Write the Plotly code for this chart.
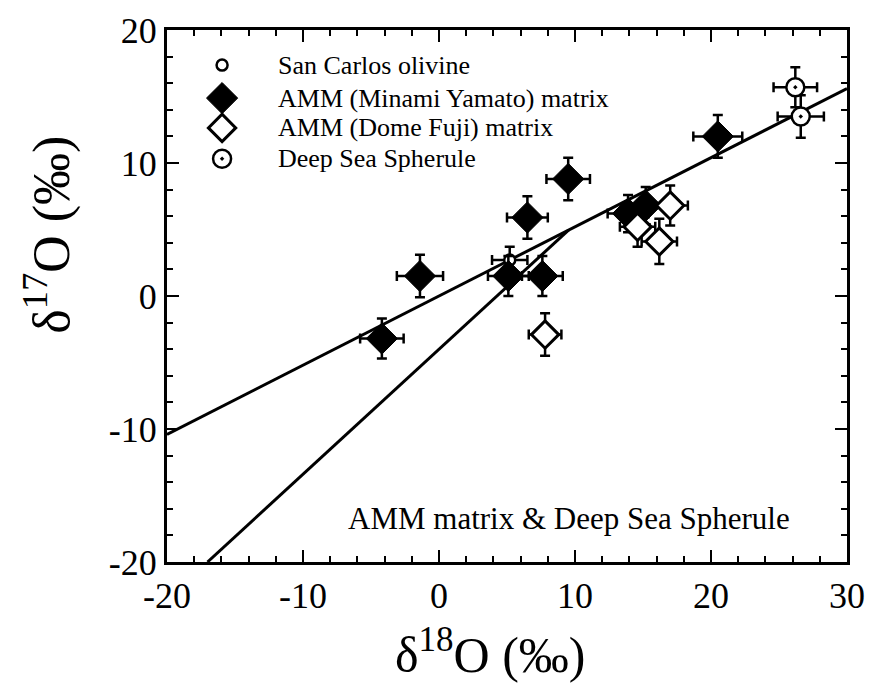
import plotly.graph_objects as go

# ---- data ----
my_x = [-4.2, -1.4, 5.1, 7.6, 6.5, 9.5, 13.9, 15.2, 20.5]
my_y = [-3.2, 1.5, 1.5, 1.5, 5.9, 8.8, 6.2, 6.8, 12.0]
my_ex = [1.6, 1.7, 1.5, 1.5, 1.5, 1.6, 1.5, 1.5, 1.8]
my_ey = [1.5, 1.6, 1.5, 1.5, 1.6, 1.6, 1.4, 1.4, 1.6]

df_x = [7.8, 14.6, 16.2, 17.0]
df_y = [-2.9, 5.2, 4.1, 6.8]
df_ex = [1.2, 1.3, 1.3, 1.3]
df_ey = [1.6, 1.5, 1.7, 1.5]

dss_x = [26.2, 26.6]
dss_y = [15.7, 13.5]
dss_ex = [1.6, 1.7]
dss_ey = [1.5, 1.6]

sc_x = [5.2]
sc_y = [2.7]
sc_ex = [1.3]
sc_ey = [1.0]

# reference lines: terrestrial fractionation (slope 0.52) and CCAM (slope 0.94)
tf_slope, tf_icpt = 0.52, 0.0
ccam_slope, ccam_icpt = 0.94, -4.0

legend_names = ["San Carlos olivine", "AMM (Minami Yamato) matrix",
                "AMM (Dome Fuji) matrix", "Deep Sea Spherule"]

x_ticks = [-20, -10, 0, 10, 20, 30]
x_ticktext = ["-20", "-10", "0", "10", "20", "30"]
y_ticks = [-20, -10, 0, 10, 20]
y_ticktext = ["-20", "-10", "0", "10", "20"]
x_range = [-20, 30]
y_range = [-20, 20]

FONT = "Liberation Serif, Times New Roman, serif"

# line coordinates from parameters
tf_x = [x_range[0], x_range[1]]
tf_y = [tf_slope * v + tf_icpt for v in tf_x]
x_int = (tf_icpt - ccam_icpt) / (ccam_slope - tf_slope)
x_bot = (y_range[0] - ccam_icpt) / ccam_slope
cc_x = [x_bot, x_int]
cc_y = [ccam_slope * v + ccam_icpt for v in cc_x]

fig = go.Figure()
ln = dict(color="black", width=3)
fig.add_trace(go.Scatter(x=tf_x, y=tf_y, mode="lines", line=ln, showlegend=False, hoverinfo="skip"))
fig.add_trace(go.Scatter(x=cc_x, y=cc_y, mode="lines", line=ln, showlegend=False, hoverinfo="skip"))

def eb(arr):
    return dict(type="data", array=arr, color="black", thickness=2.5, width=5)

fig.add_trace(go.Scatter(x=sc_x, y=sc_y, mode="markers", showlegend=False,
                         marker=dict(symbol="circle", size=11, color="white",
                                     line=dict(color="black", width=2.5)),
                         error_x=eb(sc_ex), error_y=eb(sc_ey)))
fig.add_trace(go.Scatter(x=my_x, y=my_y, mode="markers", showlegend=False,
                         marker=dict(symbol="diamond", size=24, color="black",
                                     line=dict(color="black", width=1)),
                         error_x=eb(my_ex), error_y=eb(my_ey)))
fig.add_trace(go.Scatter(x=df_x, y=df_y, mode="markers", showlegend=False,
                         marker=dict(symbol="diamond", size=21, color="white",
                                     line=dict(color="black", width=3)),
                         error_x=eb(df_ex), error_y=eb(df_ey)))
fig.add_trace(go.Scatter(x=dss_x, y=dss_y, mode="markers", showlegend=False,
                         marker=dict(symbol="circle-dot", size=18, color="white",
                                     line=dict(color="black", width=2.5)),
                         error_x=eb(dss_ex), error_y=eb(dss_ey)))

# manual legend on an overlay axis in [0,1] units
leg_rows = [0.934, 0.872, 0.816, 0.758]
leg_mx = 0.081
leg_tx = 0.160
leg_markers = [
    dict(symbol="circle", size=11, color="white", line=dict(color="black", width=2.5)),
    dict(symbol="diamond", size=24, color="black", line=dict(color="black", width=1)),
    dict(symbol="diamond", size=21, color="white", line=dict(color="black", width=3)),
    dict(symbol="circle-dot", size=18, color="white", line=dict(color="black", width=2.5)),
]
for r, m, name in zip(leg_rows, leg_markers, legend_names):
    fig.add_trace(go.Scatter(x=[leg_mx], y=[r], mode="markers", marker=m,
                             xaxis="x2", yaxis="y2", showlegend=False, hoverinfo="skip"))
    fig.add_annotation(x=leg_tx, y=r, xref="paper", yref="paper", text=name,
                       showarrow=False, xanchor="left", yanchor="middle",
                       font=dict(family=FONT, size=26, color="black"))

fig.add_annotation(x=0.591, y=0.081, xref="paper", yref="paper",
                   text="AMM matrix &amp; Deep Sea Spherule", showarrow=False,
                   xanchor="center", yanchor="middle",
                   font=dict(family=FONT, size=31, color="black"))

# axis titles
fig.add_annotation(x=0.475, y=-0.168, xref="paper", yref="paper",
                   text="δ<sup>18</sup>O (‰)", showarrow=False,
                   xanchor="center", yanchor="middle",
                   font=dict(family=FONT, size=50, color="black"))
fig.add_annotation(x=-0.175, y=0.615, xref="paper", yref="paper",
                   text="δ<sup>17</sup>O (‰)", showarrow=False, textangle=-90,
                   xanchor="center", yanchor="middle",
                   font=dict(family=FONT, size=52, color="black"))

axis_common = dict(showgrid=False, zeroline=False, showline=True, linecolor="black",
                   linewidth=3, mirror="allticks", ticks="inside", ticklen=12,
                   tickwidth=2, tickcolor="black", automargin=False,
                   tickfont=dict(family=FONT, size=36, color="black"),
                   minor=dict(ticks="inside", ticklen=6, tickwidth=2, tickcolor="black",
                              dtick=2, showgrid=False))

fig.update_layout(
    width=870, height=685,
    margin=dict(l=167, r=23, t=30, b=123, autoexpand=False),
    paper_bgcolor="white", plot_bgcolor="white",
    showlegend=False,
    xaxis=dict(range=x_range, tickvals=x_ticks, ticktext=x_ticktext, **axis_common),
    yaxis=dict(range=y_range, tickvals=y_ticks, ticktext=y_ticktext, **axis_common),
    xaxis2=dict(range=[0, 1], overlaying="x", visible=False),
    yaxis2=dict(range=[0, 1], overlaying="y", visible=False),
)

fig.write_html("out.html")
